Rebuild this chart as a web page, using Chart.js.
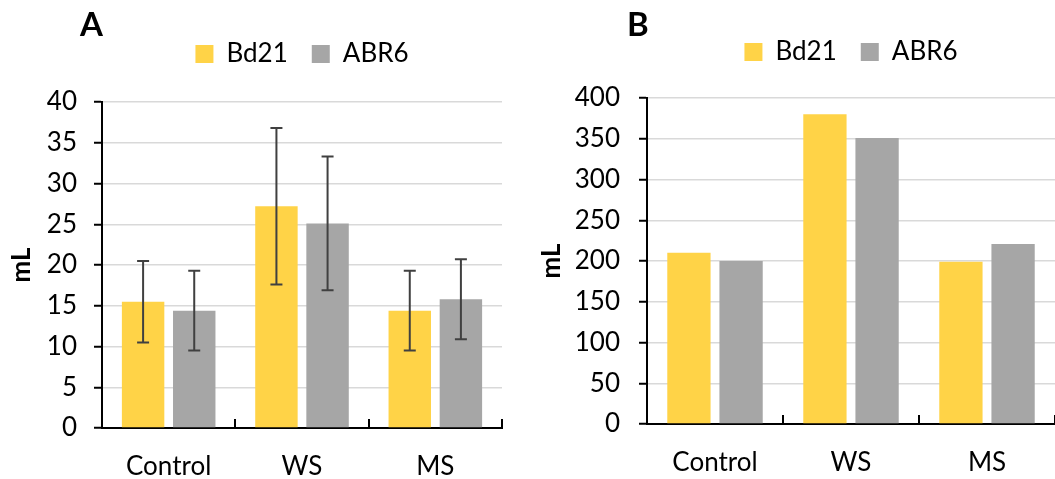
<!DOCTYPE html>
<html>
<head>
<meta charset="utf-8">
<script src="https://cdn.jsdelivr.net/npm/chart.js@4"></script>
<style>
  html, body { margin: 0; padding: 0; background: #fff; }
  body { width: 1055px; height: 479px; position: relative; overflow: hidden; }
  .panel { position: absolute; top: 0; height: 479px; }
  #wrapA { left: 0; width: 530px; }
  #wrapB { left: 530px; width: 525px; }
</style>
</head>
<body>
<div class="panel" id="wrapA"><canvas id="chartA"></canvas></div>
<div class="panel" id="wrapB"><canvas id="chartB"></canvas></div>
<script>
const categories = ["Control", "WS", "MS"];
const seriesNames = ["Bd21", "ABR6"];

// panel A, mL with error bars
const bd21VolA = [15.5, 27.2, 14.4];
const abr6VolA = [14.4, 25.1, 15.8];
const bd21ErrA = [5.0, 9.6, 4.9];
const abr6ErrA = [4.9, 8.2, 4.9];
const ticksA = [0, 5, 10, 15, 20, 25, 30, 35, 40];

// panel B, mL
const bd21VolB = [210, 380, 199];
const abr6VolB = [200, 351, 221];
const ticksB = [0, 50, 100, 150, 200, 250, 300, 350, 400];

const YELLOW = "#FFD347";
const GRAY = "#A6A6A6";
const FONT = "Lato";

// legend spacing, error bars, inward category ticks and the panel letter
const extrasPlugin = {
  id: "extras",
  beforeInit(chart) {
    const fit = chart.legend.fit;
    chart.legend.fit = function () {
      fit.bind(chart.legend)();
      const o = chart.options.plugins.extras;
      this.height = o.areaTop - o.padTop;
    };
  },
  afterDatasetsDraw(chart) {
    const opts = chart.options.plugins.extras;
    const ctx = chart.ctx;
    const x = chart.scales.x;
    const y = chart.scales.y;

    if (opts.errors) {
      ctx.save();
      ctx.strokeStyle = "#404040";
      ctx.lineWidth = 2;
      chart.data.datasets.forEach((ds, di) => {
        const meta = chart.getDatasetMeta(di);
        meta.data.forEach((bar, i) => {
          const err = opts.errors[di][i];
          const v = ds.data[i];
          const top = y.getPixelForValue(v + err);
          const bot = y.getPixelForValue(v - err);
          ctx.beginPath();
          ctx.moveTo(bar.x, top);
          ctx.lineTo(bar.x, bot);
          ctx.moveTo(bar.x - 6, top);
          ctx.lineTo(bar.x + 6, top);
          ctx.moveTo(bar.x - 6, bot);
          ctx.lineTo(bar.x + 6, bot);
          ctx.stroke();
        });
      });
      ctx.restore();
    }

    ctx.save();
    ctx.strokeStyle = "#000";
    ctx.lineWidth = 2;
    for (let i = 0; i < categories.length; i++) {
      const px = Math.round(x.getPixelForValue(i + 0.5));
      ctx.beginPath();
      ctx.moveTo(px, chart.chartArea.bottom);
      ctx.lineTo(px, chart.chartArea.bottom - 9);
      ctx.stroke();
    }
    ctx.restore();

    ctx.save();
    ctx.fillStyle = "#000";
    ctx.font = "bold 33px " + FONT;
    ctx.textBaseline = "alphabetic";
    ctx.fillText(opts.letter, opts.letterX, 36);
    ctx.restore();
  },
};

function makeChart(id, cfg) {
  return new Chart(document.getElementById(id), {
    type: "bar",
    data: {
      labels: categories,
      datasets: [
        {
          label: seriesNames[0],
          data: cfg.bd21,
          backgroundColor: YELLOW,
          categoryPercentage: 0.767,
          barPercentage: 0.83,
        },
        {
          label: seriesNames[1],
          data: cfg.abr6,
          backgroundColor: GRAY,
          categoryPercentage: 0.767,
          barPercentage: 0.83,
        },
      ],
    },
    options: {
      responsive: true,
      maintainAspectRatio: false,
      animation: false,
      layout: {
        padding: { top: cfg.padTop, right: cfg.padRight, bottom: 0, left: 0 },
      },
      plugins: {
        tooltip: { enabled: false },
        legend: {
          position: "top",
          fullSize: false,
          labels: {
            boxWidth: 18,
            boxHeight: 18,
            padding: 24,
            color: "#000",
            font: { family: FONT, size: 26 },
          },
        },
        extras: {
          letter: cfg.letter,
          letterX: cfg.letterX,
          areaTop: cfg.areaTop,
          padTop: cfg.padTop,
          errors: cfg.errors,
        },
      },
      scales: {
        x: {
          afterFit: (s) => {
            s.height = cfg.xHeight;
          },
          grid: { display: false, drawTicks: false },
          border: { display: true, color: "#000", width: 2 },
          ticks: {
            color: "#000",
            padding: 23,
            font: { family: FONT, size: 26 },
          },
        },
        y: {
          min: 0,
          max: cfg.ticks[cfg.ticks.length - 1],
          afterFit: (s) => {
            s.width = cfg.yWidth;
          },
          afterBuildTicks: (s) => {
            s.ticks = cfg.ticks.map((v) => ({ value: v }));
          },
          grid: {
            color: "#D9D9D9",
            lineWidth: 1.5,
            tickColor: "#000",
            tickWidth: 2,
            tickLength: 8,
          },
          border: { display: true, color: "#000", width: 2 },
          ticks: {
            color: "#000",
            padding: cfg.tickPad,
            font: { family: FONT, size: 26 },
          },
          title: {
            display: true,
            text: "mL",
            color: "#000",
            padding: { top: 6, bottom: 0 },
            font: { family: FONT, size: 26, weight: "bold" },
          },
        },
      },
    },
    plugins: [extrasPlugin],
  });
}

makeChart("chartA", {
  bd21: bd21VolA,
  abr6: abr6VolA,
  errors: [bd21ErrA, abr6ErrA],
  ticks: ticksA,
  letter: "A",
  letterX: 80,
  padTop: 17,
  areaTop: 102,
  padRight: 28,
  yWidth: 102,
  xHeight: 51,
  tickPad: 17,
});

makeChart("chartB", {
  bd21: bd21VolB,
  abr6: abr6VolB,
  errors: null,
  ticks: ticksB,
  letter: "B",
  letterX: 97,
  padTop: 15,
  areaTop: 98,
  padRight: 0,
  yWidth: 117,
  xHeight: 55,
  tickPad: 19,
});
</script>
</body>
</html>
